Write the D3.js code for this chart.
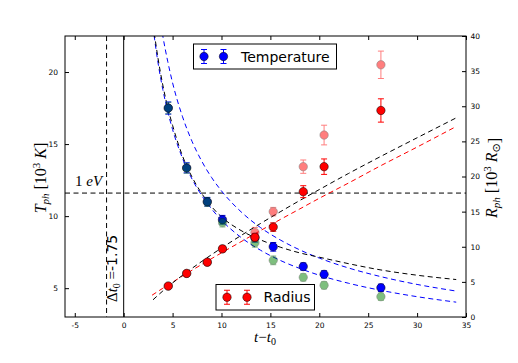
<!DOCTYPE html>
<html><head><meta charset="utf-8">
<script src="https://cdn.jsdelivr.net/npm/d3@7"></script>
<style>body{margin:0;background:#fff}</style>
</head><body><svg id="c" width="518" height="363"></svg>
<script>
// ---- data ----
const times = [4.56, 6.44, 8.55, 10.1, 13.42, 15.29, 18.36, 20.49, 26.3];
const tempBlue = [17.5, 13.35, 11.0, 9.75, 8.5, 7.87, 6.5, 5.96, 5.03];
const tempBlueErr = [0.42, 0.35, 0.3, 0.3, 0.3, 0.3, 0.25, 0.25, 0.25];
const tempGreen = [17.5, 13.33, 10.98, 9.55, 8.15, 6.93, 5.75, 5.2, 4.41];
const tempGreenErr = [0.4, 0.35, 0.3, 0.3, 0.3, 0.3, 0.25, 0.25, 0.25];
const radRed = [4.4, 6.2, 7.8, 9.7, 11.35, 12.8, 17.84, 21.4, 29.4];
const radRedErr = [0.25, 0.3, 0.35, 0.4, 0.5, 0.6, 0.85, 1.1, 1.66];
const radPink = [4.4, 6.2, 7.8, 9.7, 12.05, 15.0, 21.4, 25.9, 35.9];
const radPinkErr = [0.3, 0.35, 0.4, 0.45, 0.7, 0.6, 0.95, 1.4, 1.95];

// fitted curves
const fitT = [3.0, 3.17, 3.5, 4.0, 4.5, 5.0, 6.0, 7.0, 8.0, 9.0, 10.0, 12.0, 14.0, 16.0, 18.0, 20.0, 23.0, 26.0, 30.0, 34.0];
const fitTempBlack = [23.3, 22.5, 21.0, 19.1, 17.55, 16.3, 14.2, 12.7, 11.55, 10.65, 9.95, 9.0, 8.35, 7.85, 7.45, 7.15, 6.7, 6.3, 5.9, 5.6];
const fitTempBlueLow = [23.13, 22.23, 20.69, 18.79, 17.27, 16.01, 14.04, 12.56, 11.41, 10.49, 9.72, 8.52, 7.63, 6.93, 6.37, 5.9, 5.34, 4.89, 4.41, 4.03];
const fitTempBlueHigh = [27.4, 26.3, 24.67, 22.5, 20.75, 19.25, 16.93, 15.17, 13.79, 12.67, 11.75, 10.3, 9.2, 8.35, 7.66, 7.09, 6.4, 5.85, 5.26, 4.8];
const fitRT = [3.0, 4.0, 5.0, 6.0, 8.0, 10.0, 12.0, 14.0, 16.0, 18.0, 20.0, 23.0, 26.0, 30.0, 34.0];
const fitRadBlack = [2.45, 3.7, 4.85, 5.92, 7.93, 9.82, 11.6, 13.32, 14.97, 16.58, 18.14, 20.44, 22.65, 25.51, 28.35];
const fitRT2 = [2.9, 4.0, 5.0, 6.0, 8.0, 10.0, 12.0, 14.0, 16.0, 18.0, 20.0, 23.0, 26.0, 30.0, 34.0];
const fitRadRed = [3.1, 4.09, 4.96, 5.82, 7.5, 9.13, 10.72, 12.31, 13.87, 15.38, 16.9, 19.08, 21.33, 24.19, 27.12];

const xTicks = [-5, 0, 5, 10, 15, 20, 25, 30, 35];
const yTTicks = [5, 10, 15, 20];
const yRTicks = [0, 5, 10, 15, 20, 25, 30, 35, 40];
const oneEV = 11.6;
const dt0 = -1.75;

// ---- layout ----
const L = 65, R = 466, T = 36, B = 317;
const svg = d3.select('#c');
const x = d3.scaleLinear().domain([-6, 35]).range([L, R]);
const yT = d3.scaleLinear().domain([3, 22.5]).range([B, T]);
const yR = d3.scaleLinear().domain([0, 40]).range([B, T]);

svg.append('defs').append('clipPath').attr('id', 'clip')
  .append('rect').attr('x', L).attr('y', T).attr('width', R - L).attr('height', B - T);

const plot = svg.append('g').attr('clip-path', 'url(#clip)');
const dash = '5,3.5';

// reference lines
plot.append('line').attr('x1', x(dt0)).attr('x2', x(dt0)).attr('y1', T).attr('y2', B)
  .attr('stroke', '#000').attr('stroke-width', 1).attr('stroke-dasharray', dash);
plot.append('line').attr('x1', x(0)).attr('x2', x(0)).attr('y1', T).attr('y2', B)
  .attr('stroke', '#000').attr('stroke-width', 1);
plot.append('line').attr('x1', L).attr('x2', R).attr('y1', yT(oneEV)).attr('y2', yT(oneEV))
  .attr('stroke', '#000').attr('stroke-width', 1).attr('stroke-dasharray', dash);

function curve(ts, vs, ys, color) {
  const line = d3.line().x(d => x(d[0])).y(d => ys(d[1])).curve(d3.curveMonotoneX);
  plot.append('path').attr('d', line(ts.map((t, i) => [t, vs[i]])))
    .attr('fill', 'none').attr('stroke', color).attr('stroke-width', 1).attr('stroke-dasharray', dash);
}
curve(fitT, fitTempBlueHigh, yT, '#0000ff');
curve(fitT, fitTempBlueLow, yT, '#0000ff');
curve(fitT, fitTempBlack, yT, '#000000');
curve(fitRT2, fitRadRed, yR, '#ff0000');
curve(fitRT, fitRadBlack, yR, '#000000');

function points(vals, errs, ys, color, alpha) {
  const g = plot.append('g');
  times.forEach((t, i) => {
    const cx = x(t), cy = ys(vals[i]), e1 = ys(vals[i] - errs[i]), e2 = ys(vals[i] + errs[i]);
    const gg = g.append('g').attr('opacity', alpha);
    gg.append('line').attr('x1', cx).attr('x2', cx).attr('y1', e1).attr('y2', e2).attr('stroke', color).attr('stroke-width', 1);
    [e1, e2].forEach(yy => gg.append('line').attr('x1', cx - 3).attr('x2', cx + 3).attr('y1', yy).attr('y2', yy).attr('stroke', color).attr('stroke-width', 1));
    gg.append('circle').attr('cx', cx).attr('cy', cy).attr('r', 4.2).attr('fill', color).attr('stroke', '#000').attr('stroke-width', 0.5);
  });
}
points(tempBlue, tempBlueErr, yT, '#0000ff', 1);
points(tempGreen, tempGreenErr, yT, '#008000', 0.5);
points(radPink, radPinkErr, yR, '#ff0000', 0.5);
points(radRed, radRedErr, yR, '#ff0000', 1);

// ---- axes ----
const fmt = d => String(d).replace('−', '-');
const axB = svg.append('g').attr('transform', `translate(0,${B})`)
  .call(d3.axisBottom(x).tickValues(xTicks).tickSize(-4).tickPadding(5.5).tickFormat(fmt));
const axTop = svg.append('g').attr('transform', `translate(0,${T})`)
  .call(d3.axisTop(x).tickValues(xTicks).tickSize(-4).tickFormat(''));
const axL = svg.append('g').attr('transform', `translate(${L},0)`)
  .call(d3.axisLeft(yT).tickValues(yTTicks).tickSize(-4).tickPadding(7).tickFormat(fmt));
const axR = svg.append('g').attr('transform', `translate(${R},0)`)
  .call(d3.axisRight(yR).tickValues(yRTicks).tickSize(-4).tickPadding(4.5).tickFormat(fmt));
[axB, axTop, axL, axR].forEach(a => {
  a.select('.domain').remove();
  a.selectAll('text').attr('font-family', 'DejaVu Sans').attr('font-size', 7.5).attr('fill', '#000');
  a.selectAll('line').attr('stroke', '#000');
});

svg.append('rect').attr('x', L).attr('y', T).attr('width', R - L).attr('height', B - T)
  .attr('fill', 'none').attr('stroke', '#000').attr('stroke-width', 1);

// ---- texts ----
const serif = 'Liberation Serif';
const ev = svg.append('text').attr('x', 75).attr('y', 186).attr('font-family', serif).attr('font-size', 15);
ev.append('tspan').text('1 ');
ev.append('tspan').attr('font-style', 'italic').text('eV');

const dt = svg.append('text').attr('transform', 'translate(117,302) rotate(-90)')
  .attr('font-family', serif).attr('font-size', 15);
dt.append('tspan').text('Δ');
dt.append('tspan').attr('font-style', 'italic').text('t');
dt.append('tspan').attr('font-size', 10).attr('dy', 3).text('0');
dt.append('tspan').attr('dy', -3).text(' =');
dt.append('tspan').attr('font-family', 'DejaVu Sans').attr('font-size', 14).text('-1.75');

const xl = svg.append('text').attr('x', 265).attr('y', 342).attr('text-anchor', 'middle')
  .attr('font-family', serif).attr('font-size', 15);
xl.append('tspan').attr('font-style', 'italic').text('t');
xl.append('tspan').text('−');
xl.append('tspan').attr('font-style', 'italic').text('t');
xl.append('tspan').attr('font-size', 10).attr('dy', 3).text('0');

function ylab(xx, main, unit) {
  const t = svg.append('text').attr('transform', `translate(${xx},178) rotate(-90)`)
    .attr('text-anchor', 'middle').attr('font-family', serif).attr('font-size', 16);
  t.append('tspan').attr('font-style', 'italic').text(main);
  t.append('tspan').attr('font-style', 'italic').attr('font-size', 11).attr('dy', 3).text('ph');
  t.append('tspan').attr('dy', -3).text(' [10');
  t.append('tspan').attr('font-size', 11).attr('dy', -6).text('3');
  t.append('tspan').attr('dy', 6).text(' ');
  unit(t);
  t.append('tspan').text(']');
}
ylab(46, 'T', t => t.append('tspan').attr('font-style', 'italic').text('K'));
ylab(497, 'R', t => {
  t.append('tspan').attr('font-style', 'italic').text('R');
  t.append('tspan').attr('font-size', 11).attr('dy', 3).attr('font-family', 'DejaVu Sans').text('⊙');
  t.append('tspan').attr('dy', -3).text('');
});

// ---- legends ----
function legend(x0, y0, w, h, m1, m2, color, label, tx) {
  svg.append('rect').attr('x', x0).attr('y', y0).attr('width', w).attr('height', h)
    .attr('fill', '#fff').attr('stroke', '#000').attr('stroke-width', 1);
  const cy = y0 + h / 2;
  [m1, m2].forEach(mx => {
    svg.append('line').attr('x1', mx).attr('x2', mx).attr('y1', cy - 7).attr('y2', cy + 7).attr('stroke', color);
    [cy - 7, cy + 7].forEach(yy => svg.append('line').attr('x1', mx - 3).attr('x2', mx + 3).attr('y1', yy).attr('y2', yy).attr('stroke', color));
    svg.append('circle').attr('cx', mx).attr('cy', cy).attr('r', 4.2).attr('fill', color).attr('stroke', '#000').attr('stroke-width', 0.5);
  });
  svg.append('text').attr('x', tx).attr('y', cy + 5).attr('font-family', 'DejaVu Sans').attr('font-size', 14).text(label);
}
legend(193.5, 44, 143, 25, 204, 223.5, '#0000ff', 'Temperature', 241);
legend(216, 284.5, 98.5, 25.5, 227, 247, '#ff0000', 'Radius', 263.5);
</script></body></html>
